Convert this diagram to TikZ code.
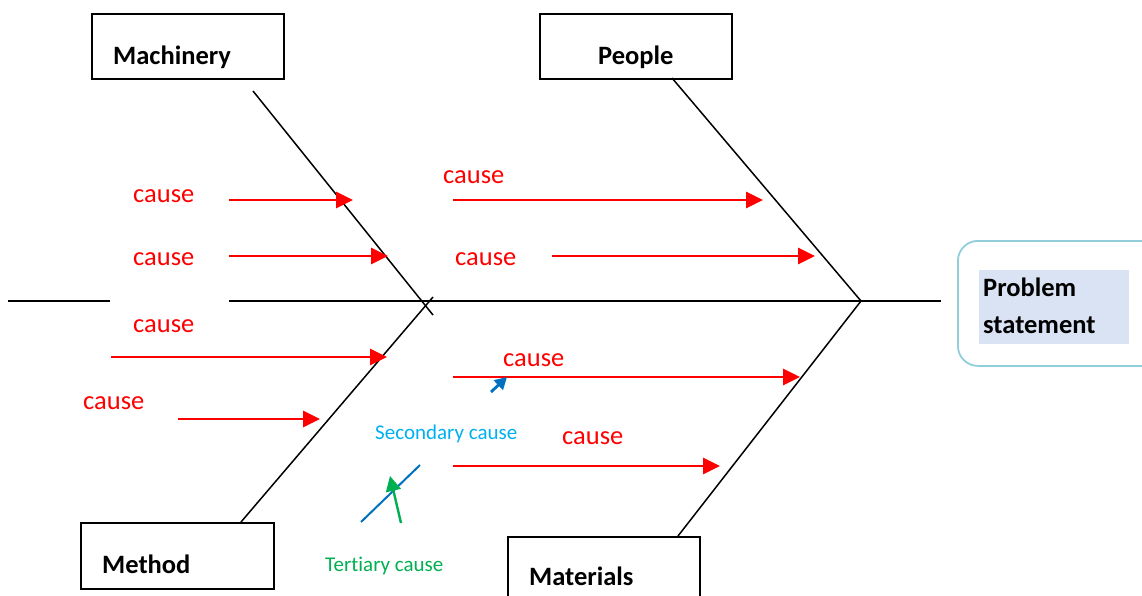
\documentclass[tikz,border=0pt]{standalone}
\usepackage{fontspec}
\setmainfont{Carlito}[Ligatures=NoCommon]
\usetikzlibrary{arrows.meta}
\definecolor{causered}{HTML}{FF0000}
\definecolor{secblue}{HTML}{0070C0}
\definecolor{seclabel}{HTML}{00B0F0}
\definecolor{tergreen}{HTML}{00B050}
\definecolor{probedge}{HTML}{92CDDC}
\definecolor{probfill}{HTML}{DAE3F3}
\begin{document}
\begin{tikzpicture}[x=1pt,y=-1pt,
  catbox/.style={draw=black,line width=1.6pt,fill=white,inner sep=0pt,anchor=north west},
  catlabel/.style={font=\fontsize{26.5}{32}\selectfont\bfseries,inner sep=0pt,anchor=base west},
  bone/.style={draw=black,line width=1.5pt},
  causetext/.style={text=causered,font=\fontsize{26.5}{32}\selectfont,inner sep=0pt,anchor=base west},
  causearrow/.style={draw=causered,line width=2.8pt,-{Triangle[length=17pt,width=16pt]}},
  thinred/.style={draw=causered,line width=1.2pt},
  smalltext/.style={font=\fontsize{21}{25}\selectfont,inner sep=0pt,anchor=base west}]
\useasboundingbox (0,0) rectangle (1142,595);
\clip (0,0) rectangle (1142,595);

% ---- category boxes ----
\node[catbox,minimum width=192pt,minimum height=65pt] (machbox) at (91,13) {};
\node[catlabel] (machtext) at (113,64) {Machinery};
\node[catbox,minimum width=192pt,minimum height=65pt] (peopbox) at (539,13) {};
\node[catlabel] (peoptext) at (598,64) {People};
\node[catbox,minimum width=193pt,minimum height=66pt] (methbox) at (80,522) {};
\node[catlabel] (methtext) at (102,573) {Method};
\node[catbox,minimum width=192pt,minimum height=80pt] (matbox) at (507,536) {};
\node[catlabel] (mattext) at (529,585) {Materials};

% ---- problem statement ----
\node[draw=probedge,line width=1.8pt,rounded corners=20pt,minimum width=220pt,minimum height=125pt,
      inner sep=0pt,anchor=north west] (probbox) at (957,240) {};
\node[fill=probfill,minimum width=150pt,minimum height=74pt,inner sep=0pt,anchor=north west] (probfill) at (979,270) {};
\node[catlabel] (probtext1) at (983,296) {Problem};
\node[catlabel] (probtext2) at (983,333) {statement};

% ---- spine ----
\coordinate (spineL) at (8,301);
\coordinate (gapL) at (110,301);
\coordinate (gapR) at (229,301);
\coordinate (head) at (861,301);
\coordinate (spineR) at (941,301);
\draw[bone] (spineL) -- (gapL);
\draw[bone] (gapR) -- (spineR);

% ---- main bones ----
\coordinate (machtop) at (253,91);
\coordinate (machend) at (433,315);
\coordinate (methbot) at (241,522);
\coordinate (methend) at (433,297);
\coordinate (peoptop) at (672,78);
\coordinate (mattop) at (678,536);
\draw[bone] (machtop) -- (machend);
\draw[bone] (methbot) -- (methend);
\draw[bone] (peoptop) -- (head);
\draw[bone] (mattop) -- (head);

% ---- causes on the left half ----
\node[causetext] (c1) at (133,202) {cause};
\coordinate (a1s) at (229,200); \coordinate (a1e) at (353,200);
\draw[causearrow] (a1s) -- (a1e);

\node[causetext] (c2) at (133,265) {cause};
\coordinate (a2s) at (229,256); \coordinate (a2e) at (388,256);
\draw[causearrow] (a2s) -- (a2e);

\node[causetext] (c3) at (133,332) {cause};
\coordinate (a3s) at (111,357); \coordinate (a3m) at (172,357); \coordinate (a3e) at (387,357);
\draw[thinred] (a3s) -- (a3m);
\draw[causearrow] (a3m) -- (a3e);

\node[causetext] (c4) at (83,409) {cause};
\coordinate (a4s) at (178,419); \coordinate (a4e) at (320,419);
\draw[causearrow] (a4s) -- (a4e);

% ---- causes on the right half ----
\node[causetext] (c5) at (443,183) {cause};
\coordinate (a5s) at (453,200); \coordinate (a5m) at (533,200); \coordinate (a5e) at (763,200);
\draw[thinred] (a5s) -- (a5m);
\draw[causearrow] (a5m) -- (a5e);

\node[causetext] (c6) at (455,265) {cause};
\coordinate (a6s) at (552,256); \coordinate (a6e) at (815,256);
\draw[causearrow] (a6s) -- (a6e);

\node[causetext] (c7) at (503,366) {cause};
\coordinate (a7s) at (453,377); \coordinate (a7e) at (800,377);
\draw[causearrow] (a7s) -- (a7e);

\node[causetext] (c8) at (562,444) {cause};
\coordinate (a8s) at (453,466); \coordinate (a8e) at (720,466);
\draw[causearrow] (a8s) -- (a8e);

% ---- secondary and tertiary causes ----
\coordinate (b1s) at (491,392); \coordinate (b1e) at (507,377);
\draw[draw=secblue,line width=2.8pt,-{Triangle[length=12pt,width=13pt]}] (b1s) -- (b1e);
\node[smalltext,text=seclabel] (sectext) at (375,439) {Secondary cause};

\coordinate (s2a) at (361,522); \coordinate (s2b) at (420,465);
\draw[draw=secblue,line width=2pt] (s2a) -- (s2b);
\coordinate (g1s) at (401,523); \coordinate (g1e) at (390,476);
\draw[draw=tergreen,line width=2.4pt,-{Triangle[length=15pt,width=15pt]}] (g1s) -- (g1e);
\node[smalltext,text=tergreen] (tertext) at (325,571) {Tert\kern0pt iary cause};
\end{tikzpicture}
\end{document}
